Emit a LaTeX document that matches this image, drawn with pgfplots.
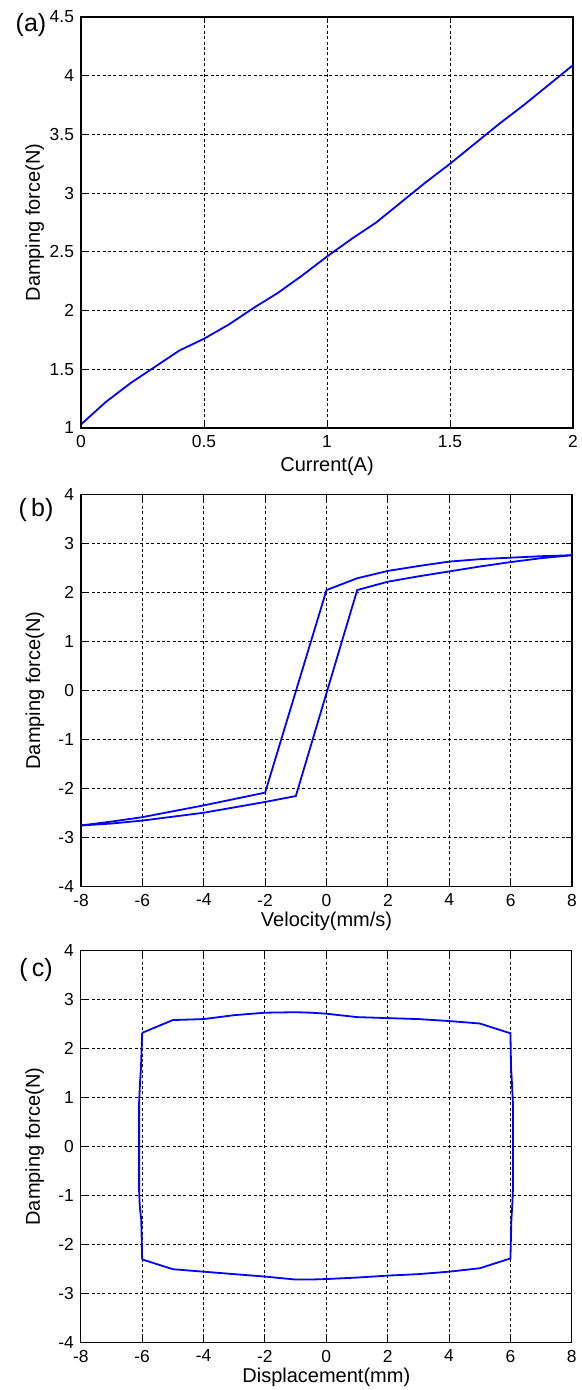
\documentclass[border=0pt]{standalone}
\usepackage{fontspec}
\setmainfont{Liberation Sans}
\usepackage{pgfplots}
\pgfplotsset{compat=1.18}
\definecolor{mblue}{RGB}{0,0,255}
\pgfplotsset{
  myax/.style={
    scale only axis,
    axis line style={black, line width=0.6pt},
    grid=major,
    major grid style={black, line width=0.45pt, dash pattern=on 1.5pt off 1.2pt},
    tick align=inside,
    major tick length=3pt,
    tick style={black, line width=0.5pt},
    ticklabel style={font=\fontsize{8.7}{10}\selectfont},
    /pgf/number format/assume math mode=true,
    label style={font=\fontsize{10}{12}\selectfont},
    every axis y label/.style={at={(axis description cs:-0.094,0.5)}, rotate=90, anchor=center},
  },
  ln/.style={mblue, line width=0.9pt, mark=none},
}
\begin{document}
\begin{tikzpicture}
\path[use as bounding box] (0,0) rectangle (291pt,695pt);
% (a)
\begin{axis}[myax, at={(40.5pt,481pt)}, anchor=south west, width=246pt, height=205.5pt,
  xmin=0, xmax=2, ymin=1, ymax=4.5, xtick={0,0.5,...,2}, ytick={1,1.5,...,4.5},
  every axis x label/.style={at={(axis description cs:0.5,-0.093)}, anchor=center},
  xlabel={Current(A)}, ylabel={Damping force(N)}]
\addplot[ln] coordinates {(0,1.03) (0.1,1.22) (0.2,1.38) (0.3,1.52) (0.4,1.66) (0.5,1.76) (0.6,1.88) (0.7,2.02) (0.8,2.15) (0.9,2.3) (1.0,2.46) (1.1,2.61) (1.2,2.75) (1.3,2.92) (1.4,3.09) (1.5,3.25) (1.6,3.42) (1.7,3.59) (1.8,3.75) (1.9,3.92) (2.0,4.09)};
\end{axis}
% (b)
\begin{axis}[myax, at={(40.5pt,251.6pt)}, anchor=south west, width=245.5pt, height=196.2pt,
  xmin=-8, xmax=8, ymin=-4, ymax=4, xtick={-8,-6,...,8}, ytick={-4,-3,...,4},
  every axis x label/.style={at={(axis description cs:0.5,-0.089)}, anchor=center},
  xlabel={Velocity(mm/s)}, ylabel={Damping force(N)}]
\addplot[ln] coordinates {(8,2.76) (7,2.74) (6,2.71) (5,2.68) (4,2.63) (3,2.54) (2,2.44) (1,2.29) (0,2.05) (-2,-2.08) (-3,-2.21) (-4,-2.34) (-5,-2.46) (-6,-2.58) (-7,-2.67) (-8,-2.75)};
\addplot[ln] coordinates {(-8,-2.75) (-7,-2.71) (-6,-2.65) (-5,-2.57) (-4,-2.49) (-3,-2.38) (-2,-2.27) (-1,-2.15) (1,2.05) (2,2.22) (3,2.33) (4,2.43) (5,2.53) (6,2.62) (7,2.7) (8,2.76)};
\end{axis}
% (c)
\begin{axis}[myax, at={(40.4pt,23.6pt)}, anchor=south west, width=245.5pt, height=196.2pt,
  xmin=-8, xmax=8, ymin=-4, ymax=4, xtick={-8,-6,...,8}, ytick={-4,-3,...,4},
  every axis x label/.style={at={(axis description cs:0.5,-0.089)}, anchor=center},
  xlabel={Displacement(mm)}, ylabel={Damping force(N)}]
\addplot[ln] coordinates {(-6,2.32) (-5,2.58) (-4,2.6) (-3,2.68) (-2,2.73) (-1,2.74) (-0.5,2.73) (0,2.71) (1,2.64) (2,2.62) (3,2.6) (4,2.56) (5,2.51) (6,2.31)
 (6.02,1.6) (6.04,1.4) (6.08,0.9) (6.08,-0.9) (6.06,-1.2) (6.03,-1.5) (6,-2.28)
 (5,-2.48) (4,-2.55) (3,-2.6) (2,-2.63) (1,-2.67) (0,-2.7) (-0.5,-2.71) (-1,-2.71) (-2,-2.65) (-3,-2.6) (-4,-2.55) (-5,-2.5) (-6,-2.3)
 (-6.03,-1.5) (-6.08,-1.2) (-6.1,-0.9) (-6.1,0.9) (-6.07,1.3) (-6.04,1.6) (-6,2.32)};
\end{axis}
\node[font=\fontsize{12.5}{14}\selectfont] at (15.5pt,682.5pt) {(a)};
\node[font=\fontsize{12.5}{14}\selectfont] at (18pt,440pt) {(\,b)};
\node[font=\fontsize{12.5}{14}\selectfont] at (18pt,210pt) {(\,c)};
\end{tikzpicture}
\end{document}
